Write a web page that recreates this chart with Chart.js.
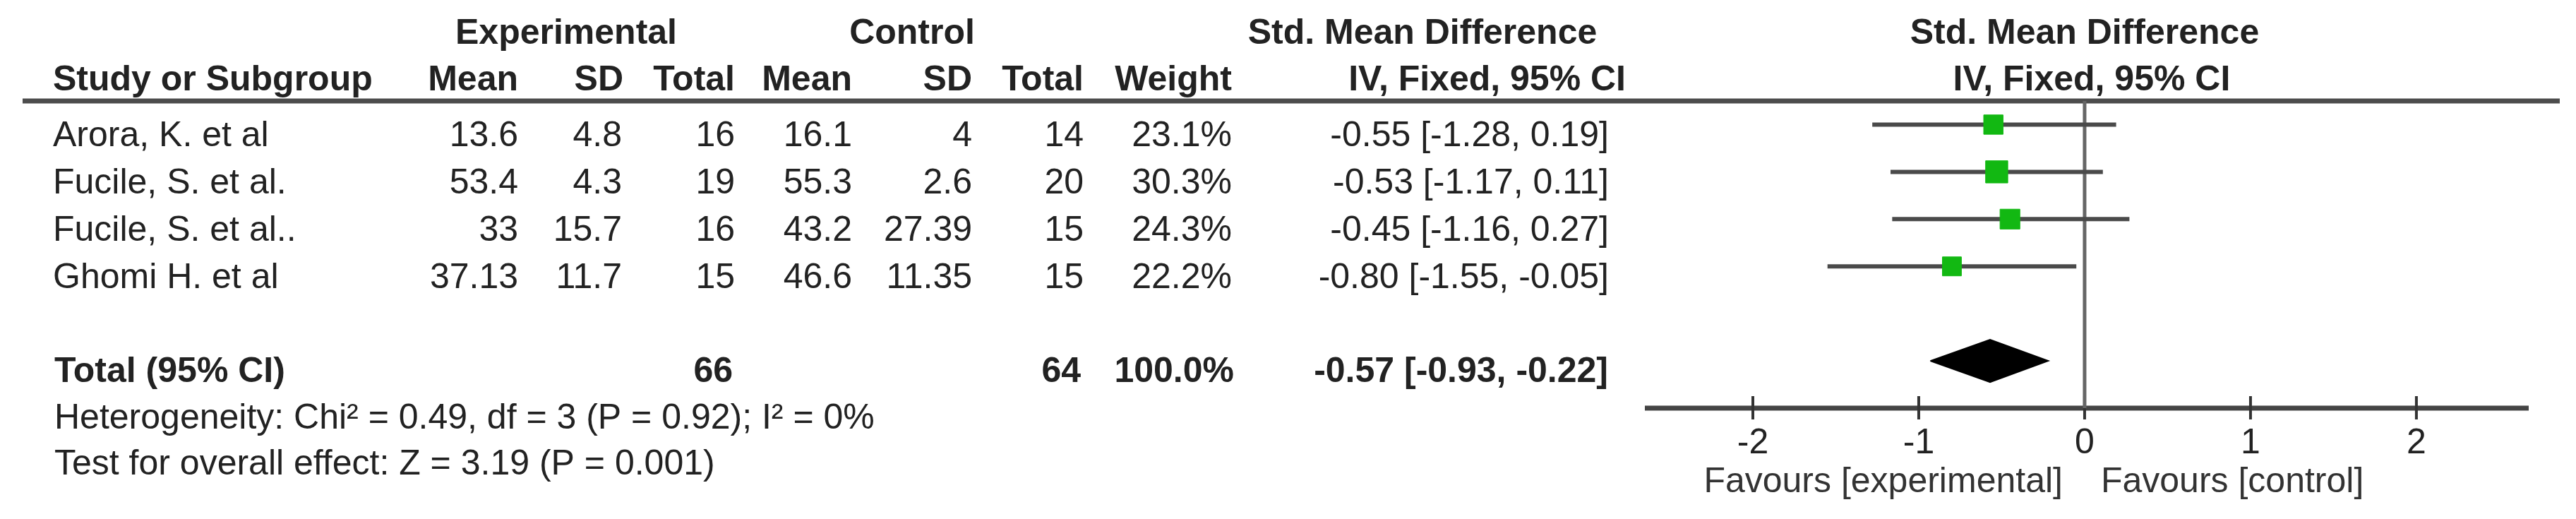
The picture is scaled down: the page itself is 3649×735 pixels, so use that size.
<!DOCTYPE html>
<html>
<head>
<meta charset="utf-8">
<script src="https://cdn.jsdelivr.net/npm/chart.js@4.4.0/dist/chart.umd.min.js"></script>
<style>
  body { margin: 0; background: #fff; }
  #wrap { width: 3649px; height: 735px; position: relative; }
</style>
</head>
<body>
<div id="wrap"><canvas id="graph"></canvas></div>
<script>
const studies = ["Arora, K. et al", "Fucile, S. et al.", "Fucile, S. et al..", "Ghomi H. et al"];
const expMean = [13.6, 53.4, 33, 37.13];
const expSD = [4.8, 4.3, 15.7, 11.7];
const expTotal = [16, 19, 16, 15];
const ctrlMean = [16.1, 55.3, 43.2, 46.6];
const ctrlSD = [4, 2.6, 27.39, 11.35];
const ctrlTotal = [14, 20, 15, 15];
const weights = [23.1, 30.3, 24.3, 22.2];
const smd = [-0.55, -0.53, -0.45, -0.80];
const ciLow = [-1.28, -1.17, -1.16, -1.55];
const ciHigh = [0.19, 0.11, 0.27, -0.05];
const totalExp = 66;
const totalCtrl = 64;
const totalWeight = 100.0;
const totalSmd = -0.57;
const totalLow = -0.93;
const totalHigh = -0.22;
const xTicks = [-2, -1, 0, 1, 2];
const heterogeneity = "Heterogeneity: Chi\u00b2 = 0.49, df = 3 (P = 0.92); I\u00b2 = 0%";
const overallTest = "Test for overall effect: Z = 3.19 (P = 0.001)";

const totalRow = 5.5;
const fmtCI = (m, l, h) => m.toFixed(2) + " [" + l.toFixed(2) + ", " + h.toFixed(2) + "]";

// CI whiskers, one small line per study
const ciSets = studies.map((s, i) => ({
  type: "line",
  data: [{ x: ciLow[i], y: i + 0.5 }, { x: ciHigh[i], y: i + 0.5 }],
  borderColor: "#4a4a4a",
  borderWidth: 6,
  pointRadius: 0,
  order: 3,
}));

const graph = document.getElementById("graph").getContext("2d");

const tablePlugin = {
  id: "table",
  beforeDatasetsDraw(chart) {
    const ctx = chart.ctx;
    const x = chart.scales.x;
    const y = chart.scales.y;
    ctx.save();
    // header rule
    ctx.strokeStyle = "#4d4d4d";
    ctx.lineWidth = 7;
    ctx.beginPath();
    ctx.moveTo(32, y.top);
    ctx.lineTo(3626, y.top);
    ctx.stroke();
    // x axis
    ctx.strokeStyle = "#444";
    ctx.lineWidth = 7;
    ctx.beginPath();
    ctx.moveTo(x.left, y.bottom);
    ctx.lineTo(x.right, y.bottom);
    ctx.stroke();
    ctx.lineWidth = 4;
    ctx.strokeStyle = "#333";
    xTicks.forEach(t => {
      const px = x.getPixelForValue(t);
      ctx.beginPath();
      ctx.moveTo(px, y.bottom - 17);
      ctx.lineTo(px, y.bottom + 16);
      ctx.stroke();
    });
    ctx.restore();
  },
  afterDraw(chart) {
    const ctx = chart.ctx;
    const x = chart.scales.x;
    const y = chart.scales.y;
    const txt = (s, px, py, align, bold, color) => {
      ctx.font = (bold ? "bold " : "") + "50px 'Liberation Sans', Arial, sans-serif";
      ctx.textAlign = align;
      ctx.fillStyle = color || "#222";
      ctx.fillText(s, px, py);
    };
    ctx.save();
    ctx.textBaseline = "alphabetic";

    // header lines
    txt("Experimental", 802, 62, "center", true);
    txt("Control", 1292, 62, "center", true);
    txt("Std. Mean Difference", 2015, 62, "center", true);
    txt("Std. Mean Difference", x.getPixelForValue(0), 62, "center", true);
    txt("Study or Subgroup", 75, 128, "left", true);
    txt("Mean", 734, 128, "right", true);
    txt("SD", 883, 128, "right", true);
    txt("Total", 1041, 128, "right", true);
    txt("Mean", 1207, 128, "right", true);
    txt("SD", 1377, 128, "right", true);
    txt("Total", 1535, 128, "right", true);
    txt("Weight", 1745, 128, "right", true);
    txt("IV, Fixed, 95% CI", 2303, 128, "right", true);
    txt("IV, Fixed, 95% CI", x.getPixelForValue(0) + 10, 128, "center", true);

    // study rows
    studies.forEach((s, i) => {
      const py = y.getPixelForValue(i + 0.5) + 31;
      txt(s, 75, py, "left");
      txt(String(expMean[i]), 734, py, "right");
      txt(String(expSD[i]), 881, py, "right");
      txt(String(expTotal[i]), 1041, py, "right");
      txt(String(ctrlMean[i]), 1207, py, "right");
      txt(String(ctrlSD[i]), 1377, py, "right");
      txt(String(ctrlTotal[i]), 1535, py, "right");
      txt(weights[i].toFixed(1) + "%", 1745, py, "right");
      txt(fmtCI(smd[i], ciLow[i], ciHigh[i]), 2279, py, "right");
    });

    // total row
    const ty = y.getPixelForValue(totalRow) + 30;
    txt("Total (95% CI)", 77, ty, "left", true);
    txt(String(totalExp), 1038, ty, "right", true);
    txt(String(totalCtrl), 1531, ty, "right", true);
    txt(totalWeight.toFixed(1) + "%", 1748, ty, "right", true);
    txt(fmtCI(totalSmd, totalLow, totalHigh), 2278, ty, "right", true);
    txt(heterogeneity, 77, 607, "left");
    txt(overallTest, 77, 672, "left");

    // axis labels
    xTicks.forEach(t => {
      txt(String(t), x.getPixelForValue(t), 642, "center");
    });
    txt("Favours [experimental]", x.getPixelForValue(0) - 31, 697, "right", false, "#333");
    txt("Favours [control]", x.getPixelForValue(0) + 23, 697, "left", false, "#333");
    ctx.restore();
  },
};

const myChart = new Chart(graph, {
  type: "scatter",
  data: {
    datasets: [
      // line of no effect
      {
        type: "line",
        data: [{ x: 0, y: 0 }, { x: 0, y: 6.5 }],
        borderColor: "#666",
        borderWidth: 5,
        pointRadius: 0,
        order: 4,
      },
      ...ciSets,
      {
        data: smd.map((v, i) => ({ x: v, y: i + 0.5 })),
        pointStyle: "rect",
        pointRadius: weights.map(w => 40.3 * Math.sqrt(w / 100)),
        backgroundColor: "#12b812",
        borderColor: "#12b812",
        borderWidth: 1,
        order: 1,
      },
      // pooled diamond
      {
        type: "line",
        data: [
          { x: totalLow, y: totalRow },
          { x: totalSmd, y: totalRow - 0.45 },
          { x: totalHigh, y: totalRow },
          { x: totalSmd, y: totalRow + 0.45 },
          { x: totalLow, y: totalRow },
        ],
        borderColor: "#000",
        backgroundColor: "#000",
        borderWidth: 2,
        fill: "shape",
        tension: 0,
        pointRadius: 0,
        order: 2,
      },
    ],
  },
  options: {
    responsive: true,
    maintainAspectRatio: false,
    animation: false,
    events: [],
    layout: {
      padding: { left: 2330, right: 67, top: 143, bottom: 157 },
    },
    scales: {
      x: { type: "linear", min: -2.651, max: 2.677, display: false },
      y: { type: "linear", min: 0, max: 6.5, reverse: true, display: false },
    },
    plugins: {
      legend: { display: false },
      tooltip: { enabled: false },
    },
  },
  plugins: [tablePlugin],
});
</script>
</body>
</html>
